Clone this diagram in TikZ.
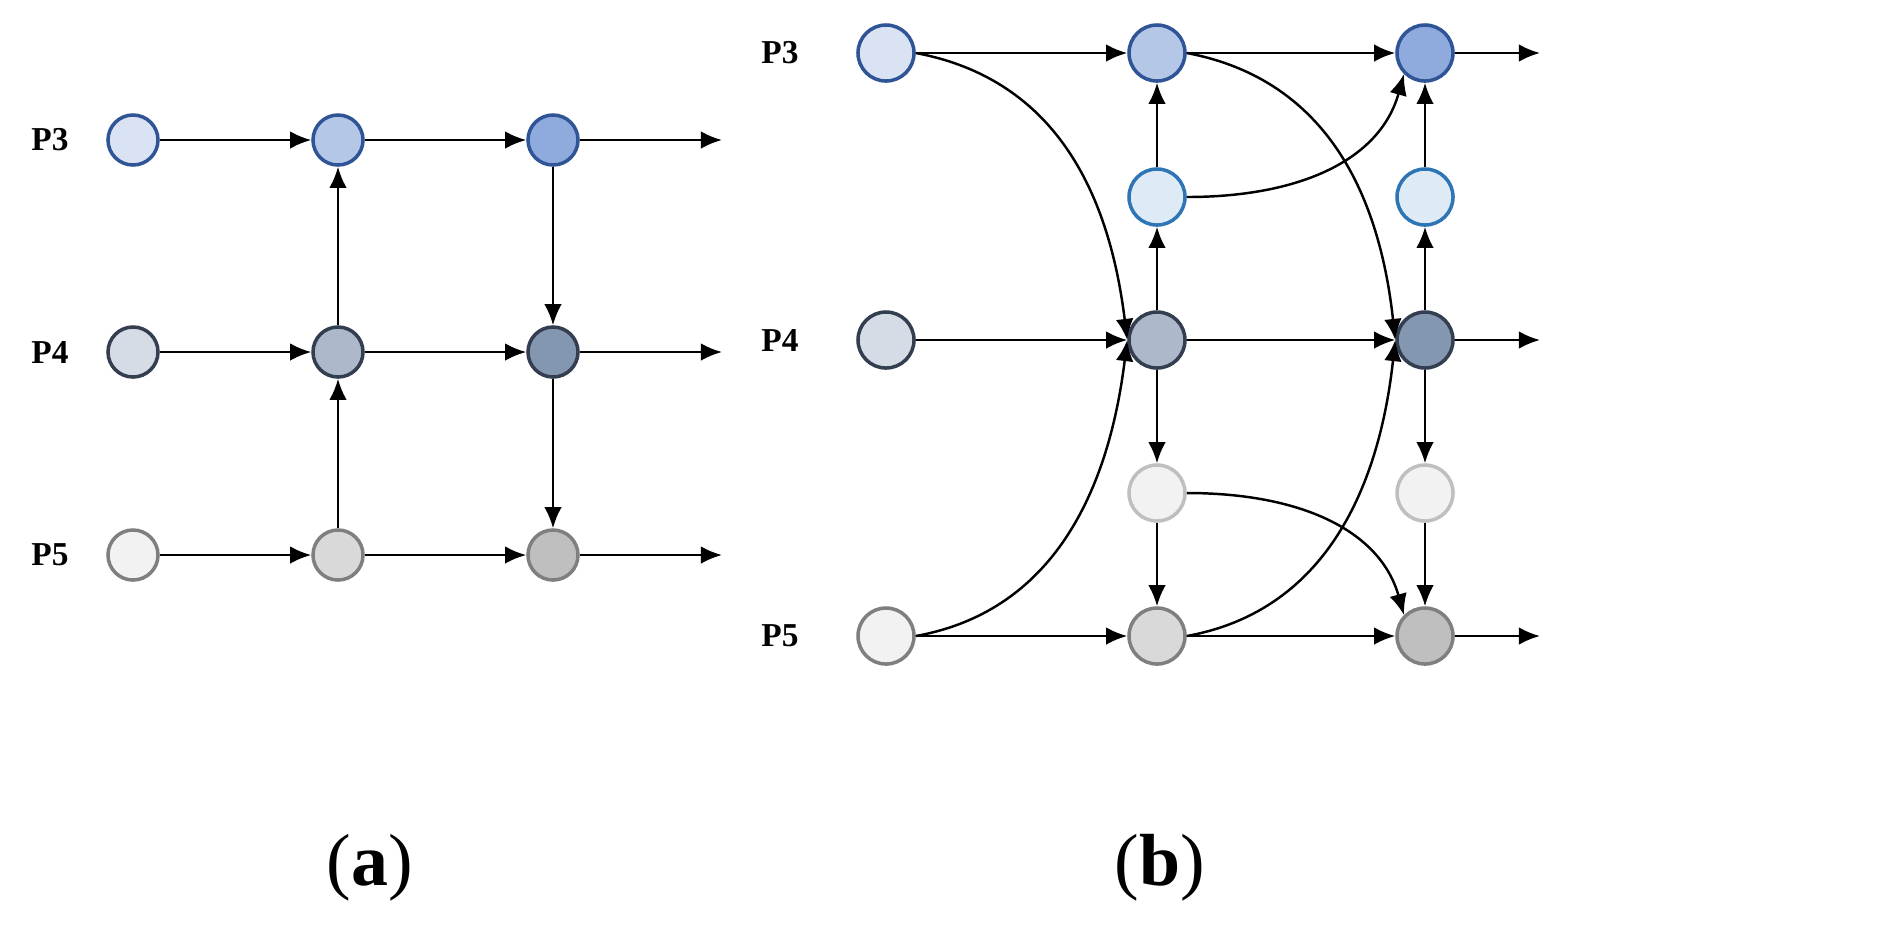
\documentclass[tikz,border=0pt]{standalone}
\usepackage{fontspec}
\setmainfont{Liberation Serif}
\usetikzlibrary{arrows.meta}
\definecolor{b1}{HTML}{DAE3F3}\definecolor{b2}{HTML}{B4C7E7}\definecolor{b3}{HTML}{8FAADC}\definecolor{bB}{HTML}{2F5597}
\definecolor{g1}{HTML}{D6DCE5}\definecolor{g2}{HTML}{ADB9CA}\definecolor{g3}{HTML}{8497B0}\definecolor{gB}{HTML}{333F50}
\definecolor{w1}{HTML}{F2F2F2}\definecolor{w2}{HTML}{D9D9D9}\definecolor{w3}{HTML}{BFBFBF}\definecolor{wB}{HTML}{7F7F7F}
\definecolor{l1}{HTML}{DEEBF7}\definecolor{lB}{HTML}{2E75B6}
\begin{document}
\begin{tikzpicture}[x=0.01cm,y=-0.01cm,
 nd/.style={circle,minimum size=0.5cm,inner sep=0pt,line width=1pt},
 ar/.style={-{Latex[length=6pt,width=5pt]},line width=0.7pt},
 lab/.style={font=\fontsize{9.5}{11}\selectfont\bfseries}]
\useasboundingbox (0,0) rectangle (1882,935);
% (a)
\foreach \n/\x/\y/\f/\d in {a31/133/140/b1/bB,a32/338/140/b2/bB,a33/553/140/b3/bB,
 a41/133/352/g1/gB,a42/338/352/g2/gB,a43/553/352/g3/gB,
 a51/133/555/w1/wB,a52/338/555/w2/wB,a53/553/555/w3/wB}
 \node[nd,fill=\f,draw=\d] (\n) at (\x,\y) {};
\coordinate (ae3) at (722,140);\coordinate (ae4) at (722,352);\coordinate (ae5) at (722,555);
\node[lab] (la3) at (50,140) {P3};\node[lab] (la4) at (50,352) {P4};\node[lab] (la5) at (50,555) {P5};
\foreach \r in {3,4,5}{\draw[ar] (a\r1)--(a\r2);\draw[ar] (a\r2)--(a\r3);\draw[ar] (a\r3)--(ae\r);}
\draw[ar] (a52)--(a42);\draw[ar] (a42)--(a32);\draw[ar] (a33)--(a43);\draw[ar] (a43)--(a53);
\node[font=\fontsize{21}{23}\selectfont] (ta) at (370,868) {(\textbf{a})};
% (b)
\foreach \n/\x/\y/\f/\d in {b31/886/53/b1/bB,b32/1157/53/b2/bB,b33/1425/53/b3/bB,
 bu2/1157/197/l1/lB,bu3/1425/197/l1/lB,
 b41/886/340/g1/gB,b42/1157/340/g2/gB,b43/1425/340/g3/gB,
 bd2/1157/493/w1/w3,bd3/1425/493/w1/w3,
 b51/886/636/w1/wB,b52/1157/636/w2/wB,b53/1425/636/w3/wB}
 \node[nd,minimum size=0.56cm,fill=\f,draw=\d] (\n) at (\x,\y) {};
\coordinate (be3) at (1540,53);\coordinate (be4) at (1540,340);\coordinate (be5) at (1540,636);
\node[lab] (lb3) at (780,53) {P3};\node[lab] (lb4) at (780,340) {P4};\node[lab] (lb5) at (780,636) {P5};
\foreach \r in {3,4,5}{\draw[ar] (b\r1)--(b\r2);\draw[ar] (b\r2)--(b\r3);\draw[ar] (b\r3)--(be\r);}
\draw[ar] (b42)--(bu2);\draw[ar] (bu2)--(b32);\draw[ar] (b43)--(bu3);\draw[ar] (bu3)--(b33);
\draw[ar] (b42)--(bd2);\draw[ar] (bd2)--(b52);\draw[ar] (b43)--(bd3);\draw[ar] (bd3)--(b53);
\draw[ar] (b31.east) .. controls (1060,80) and (1110,200) .. (b42.west);
\draw[ar] (b51.east) .. controls (1060,610) and (1110,480) .. (b42.west);
\draw[ar] (b32.east) .. controls (1330,80) and (1380,200) .. (b43.west);
\draw[ar] (b52.east) .. controls (1330,610) and (1380,480) .. (b43.west);
\draw[ar] (bu2.east) .. controls (1300,197) and (1380,160) .. (b33.south west);
\draw[ar] (bd2.east) .. controls (1300,493) and (1380,530) .. (b53.north west);
\node[font=\fontsize{21}{23}\selectfont] (tb) at (1160,868) {(\textbf{b})};
\end{tikzpicture}
\end{document}
